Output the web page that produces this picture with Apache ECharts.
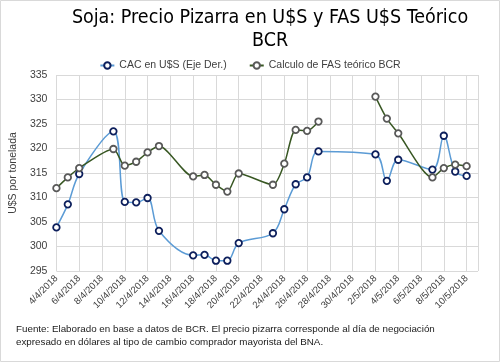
<!DOCTYPE html>
<html><head><meta charset="utf-8">
<script src="https://cdn.jsdelivr.net/npm/echarts@6/dist/echarts.min.js"></script>
<style>html,body{margin:0;padding:0;background:#fff}#c{width:500px;height:362px}</style>
</head><body><div id="c"></div>
<script>
const dates = ['4/4/2018','5/4/2018','6/4/2018','9/4/2018','10/4/2018','11/4/2018','12/4/2018','13/4/2018','16/4/2018','17/4/2018','18/4/2018','19/4/2018','20/4/2018','23/4/2018','24/4/2018','25/4/2018','26/4/2018','27/4/2018','2/5/2018','3/5/2018','4/5/2018','7/5/2018','8/5/2018','9/5/2018','10/5/2018'];
const cacUSD = [303.9,308.6,314.8,323.5,309.1,309.0,309.9,303.2,298.2,298.3,297.1,297.1,300.7,302.7,307.6,312.7,314.1,319.4,318.8,313.4,317.7,315.7,322.6,315.3,314.4];
const fasBCR = [311.9,314.1,316.0,319.9,316.5,317.3,319.2,320.5,314.3,314.6,312.6,311.2,314.9,312.6,316.9,323.8,323.6,325.5,330.6,326.1,323.1,314.1,316.0,316.7,316.4];
const fasBreakDates = ['30/4/2018'];
const tickLabels = ['4/4/2018','6/4/2018','8/4/2018','10/4/2018','12/4/2018','14/4/2018','16/4/2018','18/4/2018','20/4/2018','22/4/2018','24/4/2018','26/4/2018','28/4/2018','30/4/2018','2/5/2018','4/5/2018','6/5/2018','8/5/2018','10/5/2018'];
const axisStart = '4/4/2018', axisEnd = '11/5/2018';
const yTicks = [295,300,305,310,315,320,325,330,335];

function dayIdx(s){const p=s.split('/').map(Number);const q=axisStart.split('/').map(Number);
  return Math.round((Date.UTC(p[2],p[1]-1,p[0])-Date.UTC(q[2],q[1]-1,q[0]))/86400000);}
const cacData = dates.map((d,i)=>[dayIdx(d),cacUSD[i]]);
let fasData = dates.map((d,i)=>[dayIdx(d),fasBCR[i]]);
fasBreakDates.forEach(b=>fasData.push([dayIdx(b),'-']));
fasData.sort((a,b)=>a[0]-b[0]);

const chart = echarts.init(document.getElementById('c'));
const font = 'Liberation Sans';
chart.setOption({
  animation:false,
  title:{text:'Soja: Precio Pizarra en U$S y FAS U$S Teórico\nBCR',left:265,top:1,textAlign:'center',
    textStyle:{fontFamily:"'DejaVu Sans Condensed', 'Liberation Sans', sans-serif",fontSize:19.5,fontWeight:'normal',color:'#000000',lineHeight:23}},
  legend:{top:55,left:'center',itemWidth:14,itemHeight:8,itemGap:22,
    textStyle:{fontFamily:font,fontSize:10.5,color:'#404040'},
    data:['CAC en U$S (Eje Der.)','Calculo de FAS teórico BCR']},
  grid:{left:43,right:22,top:75,bottom:91},
  xAxis:{type:'value',min:dayIdx(axisStart),max:dayIdx(axisEnd),interval:2,
    axisLine:{show:false},axisTick:{show:false},
    splitLine:{show:true,lineStyle:{color:'#d9d9d9',width:1}},
    axisLabel:{rotate:45,fontFamily:font,fontSize:9.5,color:'#404040',margin:6,showMaxLabel:false,
      formatter:v=>(v%2===0 && tickLabels[v/2])?tickLabels[v/2]:''}},
  yAxis:{type:'value',min:yTicks[0],max:yTicks[yTicks.length-1],interval:5,
    name:'U$S por tonelada',nameLocation:'middle',nameGap:29,
    nameTextStyle:{fontFamily:font,fontSize:10.5,color:'#404040'},
    axisLine:{show:false},axisTick:{show:false},
    splitLine:{lineStyle:{color:'#d9d9d9',width:1}},
    axisLabel:{fontFamily:font,fontSize:10.5,color:'#404040',margin:9}},
  series:[
    {name:'CAC en U$S (Eje Der.)',type:'line',data:cacData,smooth:0.35,connectNulls:true,
      symbol:'circle',symbolSize:6.5,
      lineStyle:{color:'#5b9bd5',width:1.5},
      itemStyle:{color:'#ffffff',borderColor:'#0d1f5c',borderWidth:1.8}},
    {name:'Calculo de FAS teórico BCR',type:'line',data:fasData,smooth:0.25,connectNulls:false,
      symbol:'circle',symbolSize:6.5,
      lineStyle:{color:'#385723',width:1.5},
      itemStyle:{color:'#ffffff',borderColor:'#595959',borderWidth:1.8}}
  ],
  graphic:[
    {type:'rect',shape:{x:0.5,y:0.5,width:499,height:361},style:{fill:'none',stroke:'#d9d9d9',lineWidth:1},silent:true},
    {type:'text',left:16,top:323,style:{text:'Fuente: Elaborado en base a datos de BCR. El precio pizarra corresponde al día de negociación\nexpresado en dólares al tipo de cambio comprador mayorista del BNA.',
      fontFamily:font,fontSize:9.8,lineHeight:13,fill:'#1a1a1a'}}
  ]
});
</script></body></html>
